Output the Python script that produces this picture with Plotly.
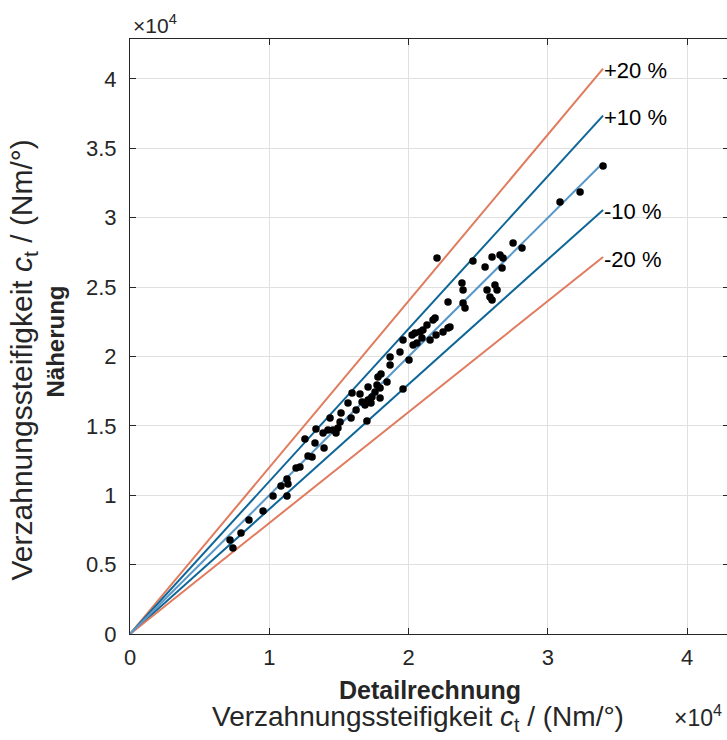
import plotly.graph_objects as go

# Detailrechnung (x) and Näherung (y) stiffness values in Nm/°
detail = [7180, 7390, 7970, 8540, 9550, 10270, 10840, 11270, 11340, 11270,
          11920, 12200, 12780, 13070,
          12560, 13280, 13350, 13860, 13930, 14210, 14360, 14570, 14790, 14930,
          15080, 15150, 15650, 15870, 15940, 16230, 16510, 16660, 16870, 17010,
          17090, 17300, 17370, 17590, 17730, 17800, 18020, 17950, 18450,
          17090, 17950, 18670, 18670, 19380, 19600, 19600, 20030, 20250, 20320,
          20460, 20600, 20820, 20960, 21030, 21320, 21540, 21970, 21900, 22470,
          22830, 22830, 22970,
          22040, 24620, 25490, 25990, 26560, 26710, 26780, 27500, 28140, 23830,
          23910, 23910, 24050, 25630, 26200, 26350, 25840, 25990, 21750,
          33960, 32310, 30870]
naeherung = [6780, 6200, 7280, 8220, 8870, 9950, 10670, 11170, 10810, 9950,
             11960, 12040, 12830, 12760,
             14050, 13770, 14770, 14490, 13410, 14700, 15570, 14700, 14490, 14850,
             15280, 15930, 16650, 15570, 17370, 16140, 17300, 16720, 16500, 15350,
             16860, 16650, 17080, 17440, 17950, 18520, 18740, 17010, 18160,
             17800, 17730, 19390, 19960, 20320, 17660, 21190, 19750, 21550, 20830,
             21690, 20970, 21770, 21330, 21910, 22270, 21190, 21550, 22770, 21770,
             22050, 23930, 22130,
             27100, 26880, 26450, 27170, 27320, 26380, 27100, 28180, 27820, 25300,
             24790, 23860, 23500, 24790, 25150, 24790, 24290, 24070, 22630,
             33730, 31860, 31130]

deviation_factors = [1.2, 1.1, 0.9, 0.8]
deviation_labels = ["+20 %", "+10 %", "-10 %", "-20 %"]
deviation_colors = ["#E07B5E", "#0E6697", "#0E6697", "#E07B5E"]

x_ticks = [0, 10000, 20000, 30000, 40000]
x_tick_text = ["0", "1", "2", "3", "4"]
y_ticks = [0, 5000, 10000, 15000, 20000, 25000, 30000, 35000, 40000]
y_tick_text = ["0", "0.5", "1", "1.5", "2", "2.5", "3", "3.5", "4"]

x_end = max(detail)
FONT = "Liberation Sans, Arial, sans-serif"
TXT = "#262626"

fig = go.Figure()
for f, lab, col in zip(deviation_factors, deviation_labels, deviation_colors):
    fig.add_trace(go.Scatter(x=[0, x_end], y=[0, f * x_end], mode="lines",
                             line=dict(color=col, width=2), showlegend=False,
                             hoverinfo="skip"))
    fig.add_annotation(x=x_end, y=f * x_end, text=lab, showarrow=False,
                       xanchor="left", yanchor="middle", xshift=-1, yshift=-2,
                       font=dict(family=FONT, size=22, color="black"))
fig.add_trace(go.Scatter(x=[0, x_end], y=[0, x_end], mode="lines",
                         line=dict(color="#5A98C8", width=2), showlegend=False))
fig.add_trace(go.Scatter(x=detail, y=naeherung, mode="markers",
                         marker=dict(color="black", size=7.5), showlegend=False))

axis_common = dict(showgrid=True, gridcolor="#E0E0E0", gridwidth=1,
                   zeroline=False, showline=True, linecolor=TXT, linewidth=1,
                   mirror="ticks", ticks="inside", ticklen=6, tickcolor=TXT,
                   tickfont=dict(family=FONT, size=22, color=TXT))
fig.update_xaxes(range=[0, 43000], tickvals=x_ticks, ticktext=x_tick_text,
                 ticklabelstandoff=4, **axis_common)
fig.update_yaxes(range=[0, 42880], tickvals=y_ticks, ticktext=y_tick_text,
                 ticklabelstandoff=8, **axis_common)

bold_font = dict(family=FONT, size=25, color=TXT)
fig.add_annotation(xref="paper", yref="paper", x=0.5, y=0, yshift=-56, xshift=0,
                   text="<b>Detailrechnung</b>", showarrow=False,
                   xanchor="center", yanchor="middle", font=bold_font)
fig.add_annotation(xref="paper", yref="paper", x=0.5, y=0, yshift=-84, xshift=-12,
                   text="Verzahnungssteifigkeit <i>c</i><sub>t</sub> / (Nm/°)",
                   showarrow=False, xanchor="center", yanchor="middle",
                   font=dict(family=FONT, size=28, color=TXT))
fig.add_annotation(xref="paper", yref="paper", x=0, y=0.5, xshift=-75, yshift=-5,
                   text="<b>Näherung</b>", textangle=-90, showarrow=False,
                   xanchor="center", yanchor="middle",
                   font=dict(family=FONT, size=24, color=TXT))
fig.add_annotation(xref="paper", yref="paper", x=0, y=0.5, xshift=-107, yshift=-24,
                   text="Verzahnungssteifigkeit <i>c</i><sub>t</sub> / (Nm/°)",
                   textangle=-90, showarrow=False,
                   xanchor="center", yanchor="middle",
                   font=dict(family=FONT, size=30, color=TXT))
fig.add_annotation(xref="paper", yref="paper", x=0, y=1, yshift=15, xshift=1,
                   text="×10<sup>4</sup>", showarrow=False,
                   xanchor="left", yanchor="middle",
                   font=dict(family=FONT, size=21, color=TXT))
fig.add_annotation(xref="paper", yref="paper", x=0.905, y=0, yshift=-82,
                   text="×10<sup>4</sup>", showarrow=False,
                   xanchor="left", yanchor="middle",
                   font=dict(family=FONT, size=23, color=TXT))

# plot area at page x 130..729 (right edge just past the window), y 39..634
fig.update_layout(width=729, height=740, plot_bgcolor="white", paper_bgcolor="white",
                  margin=dict(l=130, r=0, t=39, b=106))
fig.write_html("out.html", config={"displayModeBar": False},
               post_script="document.body.style.margin='0';"
                           "document.body.style.overflow='hidden';"
                           "document.documentElement.style.overflow='hidden';")
